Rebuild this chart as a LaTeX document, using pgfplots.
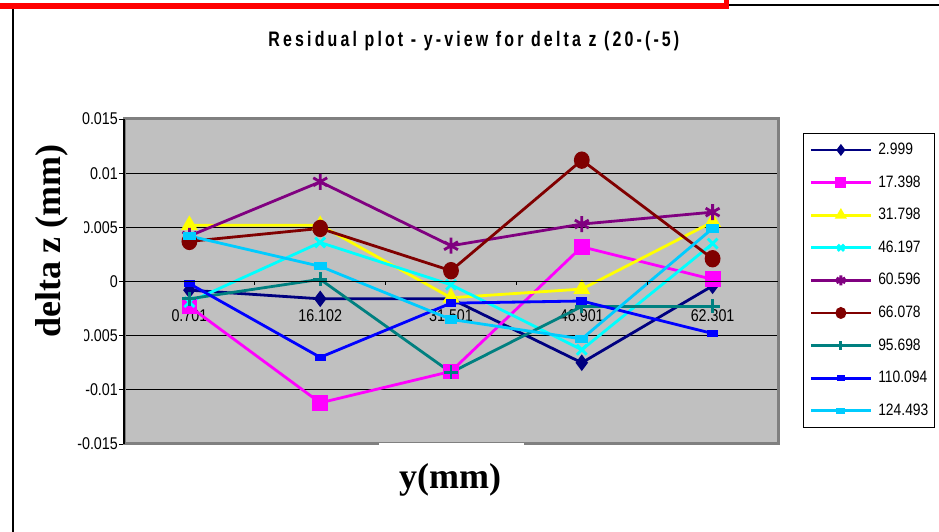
\documentclass[border=0pt]{standalone}
\usepackage{fontspec}
\usepackage{pgfplots}
\pgfplotsset{compat=1.18}
\setmainfont{Liberation Sans}
\newfontfamily\tickfont[FakeStretch=0.84]{Liberation Sans}
\newfontfamily\legfont[FakeStretch=0.84]{Liberation Sans}
\newfontfamily\titlefont[FakeStretch=0.76,LetterSpace=15]{Liberation Sans}
\newfontfamily\labfont{Liberation Serif}

\definecolor{plotgray}{HTML}{C0C0C0}
\definecolor{framegray}{HTML}{808080}
\definecolor{sNavy}{HTML}{000080}
\definecolor{sMagenta}{HTML}{FF00FF}
\definecolor{sYellow}{HTML}{FFFF00}
\definecolor{sCyan}{HTML}{00FFFF}
\definecolor{sPurple}{HTML}{800080}
\definecolor{sMaroon}{HTML}{800000}
\definecolor{sTeal}{HTML}{008080}
\definecolor{sBlue}{HTML}{0000FF}
\definecolor{sSky}{HTML}{00CCFF}

\begin{document}
\begin{tikzpicture}[x=1pt,y=1pt]
\path[use as bounding box] (0,0) rectangle (939,532);
% window frame
\fill[red] (0,523) rectangle (729,528.5);
\fill[red] (724,523) rectangle (729,532);
\draw[black,line width=1.2pt] (729,527) -- (939,527);
\draw[black,line width=1.3pt] (13,0) -- (13,523);

\begin{axis}[
  at={(124pt,88pt)}, anchor=south west,
  width=654pt, height=325pt, scale only axis,
  xmin=-0.5, xmax=4.5, ymin=-0.015, ymax=0.015,
  axis background/.style={fill=plotgray},
  axis line style={draw=framegray,line width=3pt},
  xtick={0,1,2,3,4},
  xticklabels={0.701,16.102,31.501,46.901,62.301},
  xtick style={draw=none},
  xticklabel style={font=\tickfont\fontsize{17}{20}\selectfont,inner sep=0pt,yshift=140pt},
  ytick={-0.015,-0.01,-0.005,0,0.005,0.01,0.015},
  yticklabels={-0.015,-0.01,-0.005,0,0.005,0.01,0.015},
  scaled y ticks=false,
  ytick pos=left, tick align=outside, major tick length=5pt,
  ytick style={black,line width=0.8pt},
  yticklabel style={font=\tickfont\fontsize{17}{20}\selectfont,inner sep=1pt},
  ymajorgrids, grid style={black,line width=0.9pt},
  title={Residual plot - y-view for delta z (20-(-5)},
  title style={font=\titlefont\bfseries\fontsize{21}{24}\selectfont,
    at={(axis description cs:0.535,1.206)},anchor=base},
  xlabel={y(mm)},
  xlabel style={font=\labfont\bfseries\fontsize{36}{40}\selectfont,
    at={(axis description cs:0.4985,-0.1354)},anchor=base},
  ylabel={delta z (mm)},
  ylabel style={font=\labfont\bfseries\fontsize{36}{40}\selectfont,
    at={(axis description cs:-0.1101,0.6246)},anchor=center,rotate=0,
    fill=white,inner xsep=3pt,inner ysep=16pt},
  every axis plot/.append style={line width=2.8pt},
  legend style={at={(axis description cs:1.0382,0.957)},anchor=north west,
    draw=black,line width=1pt,fill=white,
    font=\legfont\fontsize{16.5}{18}\selectfont,
    nodes={inner sep=0pt,text height=11pt,text depth=2pt},
    row sep=19.6pt, inner xsep=6pt, inner ysep=10pt},
  legend cell align=left,
  legend image code/.code={
    \draw[#1,mark repeat=2,mark phase=2,every mark/.append style={scale=0.62}]
      plot coordinates {(0pt,0pt) (30pt,0pt) (60pt,0pt)};
    \node[inner sep=0pt,minimum width=3pt] at (63pt,0pt) {};
  },
  after end axis/.code={
    \draw[black,line width=1.2pt] (rel axis cs:0,0) -- (rel axis cs:0,1);
    \draw[black,line width=0.9pt] (axis cs:-0.5,0) -- (axis cs:4.5,0);
    \foreach \b in {0.5,1.5,2.5,3.5}
      \draw[black,line width=0.9pt] (axis cs:\b,0) -- ++(0,-4pt);
  },
]
\addplot[color=sNavy,mark=diamond*,mark size=6pt] coordinates
  {(0,-0.0008) (1,-0.0016) (2,-0.0016) (3,-0.0075) (4,-0.0004)};
\addlegendentry{2.999}
\addplot[color=sMagenta,mark=square*,mark size=6.5pt] coordinates
  {(0,-0.0023) (1,-0.0112) (2,-0.0083) (3,0.0032) (4,0.0002)};
\addlegendentry{17.398}
\addplot[color=sYellow,mark=triangle*,mark size=7pt] coordinates
  {(0,0.0052) (1,0.0052) (2,-0.0015) (3,-0.0007) (4,0.0055)};
\addlegendentry{31.798}
\addplot[color=sCyan,mark=x,mark size=7pt] coordinates
  {(0,-0.0019) (1,0.0036) (2,-0.0003) (3,-0.0063) (4,0.0035)};
\addlegendentry{46.197}
\addplot[color=sPurple,mark=asterisk,mark size=8pt] coordinates
  {(0,0.0042) (1,0.0092) (2,0.0033) (3,0.0053) (4,0.0064)};
\addlegendentry{60.596}
\addplot[color=sMaroon,mark=*,mark size=6.5pt,mark options={yscale=1.12}] coordinates
  {(0,0.0037) (1,0.0049) (2,0.0010) (3,0.0112) (4,0.0021)};
\addlegendentry{66.078}
\addplot[color=sTeal,mark=+,mark size=7pt] coordinates
  {(0,-0.0016) (1,0.0002) (2,-0.0084) (3,-0.0023) (4,-0.0023)};
\addlegendentry{95.698}
\addplot[color=sBlue,mark=square*,mark size=4pt,mark options={yscale=0.6}] coordinates
  {(0,-0.0002) (1,-0.0070) (2,-0.0020) (3,-0.0018) (4,-0.0048)};
\addlegendentry{110.094}
\addplot[color=sSky,mark=square*,mark size=5pt,mark options={yscale=0.55}] coordinates
  {(0,0.0042) (1,0.0014) (2,-0.0035) (3,-0.0053) (4,0.0049)};
\addlegendentry{124.493}
\end{axis}
% gap in the lower frame edge
\fill[white] (379,83) rectangle (524,88.5);
\end{tikzpicture}
\end{document}
